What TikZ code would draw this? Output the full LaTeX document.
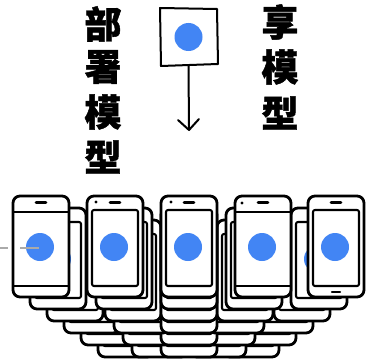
\documentclass[tikz,border=0pt]{standalone}
\usepackage{fontspec}
\newfontfamily\cjk{Noto Sans CJK SC}[FakeBold=1.2]
\definecolor{dotblue}{HTML}{4285F4}
\definecolor{wire}{HTML}{AAAAAA}
\tikzset{
  ink/.style={line width=2.8pt, black, line join=round, line cap=round},
  glass/.style={line width=2.1pt, black, line join=round},
  hanzi/.style={font=\cjk\bfseries\fontsize{37}{37}\selectfont, inner sep=0pt, text=black},
  % handset with an inset screen
  pics/handset/.style={code={
    \draw[ink, fill=white, rounded corners=7pt] (0,0) rectangle (56,101);
    \draw[glass, fill=white, rounded corners=2pt] (5,14) rectangle (51,90);
    \fill[dotblue] (27,51) circle (14pt);
    \draw[line width=2.6pt, line cap=round] (23,6.5) -- (33,6.5);
  }},
  % handset whose screen runs edge to edge
  pics/handsetwide/.style={code={
    \draw[ink, fill=white, rounded corners=7pt] (0,0) rectangle (56,101);
    \draw[glass] (1,16) -- (55,16) (1,90) -- (55,90);
    \fill[dotblue] (27,51) circle (14pt);
    \draw[line width=2.6pt, line cap=round] (23,6.5) -- (33,6.5);
  }},
  pics/camdot/.style={code={\fill (0,0) circle (1.6pt);}},
  pics/homekey/.style={code={\draw[line width=2.4pt, line cap=round] (-4,0) -- (4,0);}}
}
\begin{document}
\begin{tikzpicture}[x=1pt,y=-1pt]
\useasboundingbox (0,0) rectangle (366,361);

% vertical captions
\node[hanzi] (l1) at (103,24) {部};
\node[hanzi] (l2) at (103,67) {署};
\node[hanzi] (l3) at (103,112) {模};
\node[hanzi] (l4) at (103,157) {型};
\node[hanzi] (r1) at (280,22) {享};
\node[hanzi] (r2) at (280,67) {模};
\node[hanzi] (r3) at (280,113) {型};

% shared model card, drawn freehand
\coordinate (c1) at (160,8);
\coordinate (c2) at (217,9);
\coordinate (c3) at (218,64);
\coordinate (c4) at (161,66);
\draw[line width=2pt, line join=round, fill=white] (c1) -- (c2) -- (c3) -- (c4) -- cycle;
\node[inner sep=0pt, minimum size=0pt] (card) at (188.5,37) {};
\fill[dotblue] (card.center) circle (14pt);
\coordinate (cardfoot) at (188.5,65);
\coordinate (drop) at (189,130);
\draw[line width=2pt, line cap=round] (cardfoot) -- (drop);
\draw[line width=2pt, line cap=round, line join=round] (178,120) -- (drop) -- (199,119);

% stacked handsets behind the front row, deepest first
\foreach \k in {5,4,3,2,1}{
  \foreach \x/\dx in {13/17, 308/-17, 87/9, 235/-9, 161/0}{
    \pic at ({\x+\k*\dx},{196+\k*12}) {handset};
  }
}

% front row
\pic (p1) at (13,196) {handsetwide};
\pic (p2) at (87,196) {handset};
\pic (p3) at (161,196) {handset};
\pic (p4) at (235,196) {handsetwide};
\pic (p5) at (308,196) {handset};
\pic at (171,202) {camdot};
\pic at (96,202) {camdot};
\pic at (242,203) {camdot};
\pic at (336,292) {homekey};

% feed line into the first handset
\coordinate (feedin) at (0,248);
\coordinate (feedgap) at (8,248);
\coordinate (feedre) at (20,248);
\coordinate (feedend) at (39,248);
\draw[wire, line width=2pt] (feedin) -- (feedgap);
\draw[wire, line width=2pt] (feedre) -- (feedend);
\end{tikzpicture}
\end{document}
